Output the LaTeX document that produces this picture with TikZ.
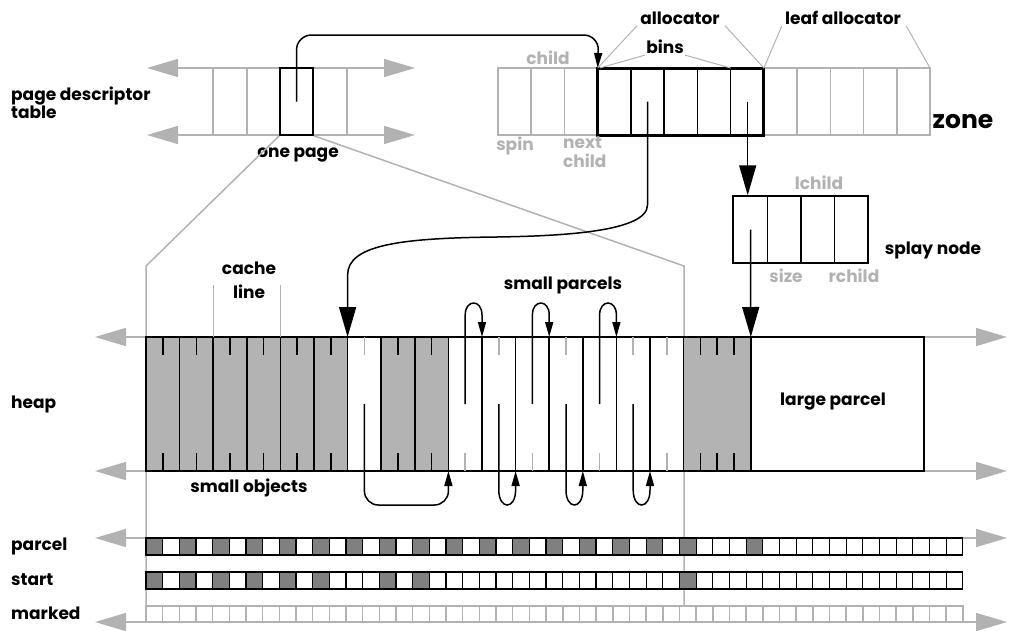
\documentclass[tikz,border=0pt]{standalone}
\usepackage{fontspec}
\setmainfont{Poppins}
\usetikzlibrary{positioning}
\usetikzlibrary{calc}
\usetikzlibrary{arrows.meta}
\definecolor{lgray}{RGB}{178,178,178}
\definecolor{hgray}{RGB}{179,179,179}
\definecolor{bgray}{RGB}{128,128,128}

\begin{document}
\begin{tikzpicture}[x=1pt, y=-1pt,
    lbl/.style={font=\fontsize{17}{16}\selectfont\bfseries, inner sep=1pt},
    glbl/.style={lbl, text=lgray},
    grayline/.style={draw=lgray, line width=1.5pt},
    thinline/.style={draw=lgray, line width=1pt},
    ext/.style={grayline, {Triangle[length=31pt,width=18pt]}-{Triangle[length=31pt,width=18pt]}},
    bigptr/.style={line width=1.5pt, -{Triangle[length=30pt,width=17pt]}},
    smallptr/.style={line width=1.5pt, -{Triangle[length=15pt,width=8pt]}},
    bitbox/.style={line width=1.2pt}]
    \useasboundingbox (0,0) rectangle (1009,630);

    % page descriptor table
    \draw[ext] (147,68) -- (415,68);
    \draw[ext] (147,135) -- (415,135);
    \foreach \x in {213,247,347}
        \draw[grayline] (\x,68) -- (\x,135);
    \node[draw, fill=white, line width=1.5pt, minimum width=33pt, minimum height=67pt, inner sep=0pt] (onepage) at (296.5,101.5) {};
    \node[lbl, align=left, anchor=west, font=\fontsize{17}{15}\selectfont\bfseries] (pdt) at (10,103) {page descriptor\\table};
    \node[lbl] (onepagelbl) at (298,155) {one page};

    % page boundaries
    \coordinate (pl) at (146,266);
    \coordinate (pr) at (684,266);
    \draw[grayline] (onepage.south west) -- (pl) -- (146,606);
    \draw[grayline] (onepage.south east) -- (pr) -- (684,606);

    % zone
    \foreach \i in {0,...,12}
        \draw[grayline] ({498+33.23*\i},68) rectangle ++(33.23,67);
    \foreach \i in {4,...,7}
        \draw[line width=1.5pt] ({498+33.23*\i},68) -- ++(0,67);
    \node[draw, line width=3pt, minimum width=166.15pt, minimum height=67pt, inner sep=0pt, outer sep=0pt] (bins) at (680.8,101.5) {};
    \coordinate (bin1) at (647.5,101.5);
    \coordinate (bin4) at (747.7,101.5);
    \coordinate (z7) at (730.6,68);
    \coordinate (zend) at (930,68);
    \coordinate (ztop) at (598.7,35);
    \node[glbl] (childlbl) at (548,58) {child};
    \node[glbl] (spinlbl) at (515,146) {spin};
    \node[glbl, align=left, anchor=north west, font=\fontsize{17}{19}\selectfont\bfseries] (nextlbl) at (562,135) {next\\child};
    \node[lbl] (alloc) at (680,18) {allocator};
    \node[lbl] (binlbl) at (665,47) {bins};
    \node[lbl] (leaf) at (843,18) {leaf allocator};
    \node[lbl, font=\fontsize{25}{25}\selectfont\bfseries] (zonelbl) at (963,122) {zone};
    \draw[thinline] ([xshift=-2pt]alloc.south west) -- (bins.north west);
    \draw[thinline] ([xshift=4pt]alloc.south east) -- (bins.north east);
    \draw[thinline] (binlbl.south west) -- ([xshift=2pt]bins.north west);
    \draw[thinline] (binlbl.south east) -- (z7);
    \draw[thinline] ([xshift=-2pt]leaf.south west) -- (bins.north east);
    \draw[thinline] ([xshift=4pt]leaf.south east) -- (zend);

    % splay node
    \node[draw, line width=1.5pt, minimum width=135pt, minimum height=67pt, inner sep=0pt] (splay) at (800.5,229.5) {};
    \foreach \x in {767.5,801,834.5}
        \draw[line width=1.5pt] (\x,196) -- (\x,263);
    \coordinate (sp0) at (750.5,229.5);
    \node[glbl] (lchildlbl) at (819,183) {lchild};
    \node[glbl] (sizelbl) at (786,276) {size};
    \node[glbl] (rchildlbl) at (854,276) {rchild};
    \node[lbl] (splaylbl) at (933,250) {splay node};

    % heap
    \foreach \k in {0,...,36} {
        \coordinate (t\k) at ({146+16.8*\k},337);
        \coordinate (m\k) at ({146+16.8*\k},404);
        \coordinate (b\k) at ({146+16.8*\k},471);
    }
    \coordinate (hend) at (924,471);
    \draw[ext] (95,337) -- (1007,337);
    \draw[ext] (95,471) -- (1007,471);
    \fill[white] (t0) rectangle (hend);
    \fill[hgray] (t0) rectangle (b12);
    \fill[hgray] (t14) rectangle (b18);
    \fill[hgray] (t32) rectangle (b36);
    \draw[line width=1.5pt] (t0) rectangle (hend);
    \foreach \k in {2,4,...,32,36}
        \draw[line width=1.5pt] (t\k) -- (b\k);
    \foreach \k in {1,3,5,7,9,11,15,17,33,34,35} {
        \draw[line width=1.5pt] (t\k) -- ++(0,18);
        \draw[line width=1.5pt] (b\k) -- ++(0,-18);
    }
    \foreach \k in {13,21,25,29,31}
        \draw[grayline] (t\k) -- ++(0,18);
    \foreach \k in {19,23,27,31}
        \draw[grayline] (b\k) -- ++(0,-18);
    \node[lbl] (heaplbl) [anchor=west] at (10,404) {heap};
    \node[lbl] (largelbl) at (833,402) {large parcel};
    \node[lbl, align=center, font=\fontsize{17}{24}\selectfont\bfseries] (cachelbl) at (249,280) {cache\\line};
    \draw[thinline] ([yshift=52pt]t4) -- (t4);
    \draw[thinline] ([yshift=52pt]t8) -- (t8);
    \node[lbl] (smallparlbl) at (563,285) {small parcels};
    \node[lbl] (smallobjlbl) at (249,488) {small objects};

    % free lists
    \draw[smallptr, rounded corners=14pt] (m13) -- ([yshift=-34pt]b13) -- ([yshift=-34pt]b18) -- (b18);
    \foreach \k/\n in {19/20,23/24,27/28}
        \draw[smallptr] (m\k) -- ([yshift=22pt]t\k) .. controls ([yshift=38pt]t\k) and ([yshift=38pt]t\n) .. ([yshift=22pt]t\n) -- (t\n);
    \foreach \k/\n in {21/22,25/26,29/30}
        \draw[smallptr] (m\k) -- ([yshift=-19pt]b\k) .. controls ([yshift=-39pt]b\k) and ([yshift=-39pt]b\n) .. ([yshift=-19pt]b\n) -- (b\n);

    % bitmaps
    \draw[ext] (95,538) -- (1007,538);
    \draw[ext] (95,622) -- (1007,622);
    \foreach \j in {0,...,48} {
        \draw[bitbox, fill=white] ({146+16.67*\j},538) rectangle ++(16.67,17);
        \draw[bitbox, fill=white] ({146+16.67*\j},572) rectangle ++(16.67,17);
        \draw[grayline, fill=white] ({146+16.67*\j},606) rectangle ++(16.67,16);
    }
    \foreach \j in {0,2,...,32,36}
        \draw[bitbox, fill=bgray] ({146+16.67*\j},538) rectangle ++(16.67,17);
    \foreach \j in {0,2,...,10,14,16,32}
        \draw[bitbox, fill=bgray] ({146+16.67*\j},572) rectangle ++(16.67,17);
    \node[lbl] (parcellbl) [anchor=west] at (10,546) {parcel};
    \node[lbl] (startlbl) [anchor=west] at (10,580) {start};
    \node[lbl] (markedlbl) [anchor=west] at (10,613) {marked};

    % pointers
    \draw[smallptr, rounded corners=15pt] (onepage.center) -- (onepage.center |- ztop) -- (ztop) -- (bins.north west);
    \draw[bigptr] (bin1) -- (647.5,205) .. controls (647.5,232) and (560,236) .. (497,237) .. controls (400,238) and (347.6,245) .. (347.6,275) -- (t12);
    \draw[bigptr] (bin4) -- (bin4 |- splay.north);
    \draw[bigptr] (sp0) -- (t36);
\end{tikzpicture}
\end{document}
